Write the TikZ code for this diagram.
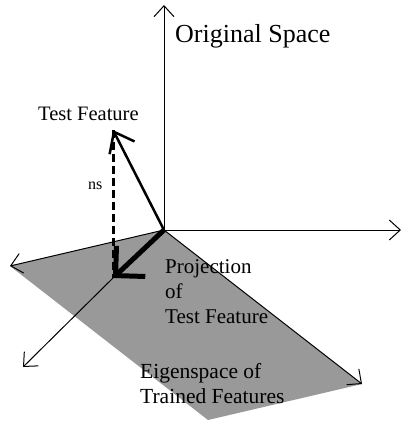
\documentclass[tikz,border=0pt]{standalone}
\usepackage{fontspec}
\setmainfont{Liberation Serif}
\usetikzlibrary{arrows.meta}
\begin{document}
\begin{tikzpicture}[x=1pt,y=-1pt,
  axis/.style={line width=1pt,-{Straight Barb[length=11pt,width=20pt]}},
  label/.style={anchor=base west,inner sep=0pt,align=left}]
  \useasboundingbox (0,0) rectangle (402,422);
  % points
  \coordinate (o) at (164,230);
  \coordinate (test) at (113,130);
  \coordinate (proj) at (113,278);
  % eigenspace plane
  \fill[black!40] (10,266) -- (o) -- (362,384) -- (208,420) -- cycle;
  % axes
  \draw[axis] (o) -- (164,5) coordinate (ytip);
  \draw[axis] (o) -- (401,230) coordinate (xtip);
  \draw[axis] (o) -- (10,266) coordinate (ltip);
  \draw[axis] (o) -- (362,384) coordinate (rtip);
  \draw[axis] (proj) -- (23,367) coordinate (dtip);
  % test feature and its projection
  \draw[line width=3pt,dash pattern=on 8pt off 4pt] (test) -- (proj);
  \draw[line width=2.5pt,-{Straight Barb[length=18pt,width=28pt]}] (o) -- (test);
  \draw[line width=5pt,-{Straight Barb[length=21pt,width=42pt]}] (o) -- (proj);
  % labels
  \node[label,font=\fontsize{26}{30}\selectfont] (orig) at (175,43) {Original Space};
  \node[label,font=\fontsize{20.5}{25}\selectfont] (testlbl) at (38,121) {Test Feature};
  \node[label,font=\fontsize{16}{18}\selectfont] (ns) at (88,189) {ns};
  \node[label,font=\fontsize{21}{25}\selectfont] (projlbl) at (165,323) {Projection\\of\\Test Feature};
  \node[label,font=\fontsize{21.5}{25}\selectfont] (eigen) at (140,403) {Eigenspace of\\Trained Features};
\end{tikzpicture}
\end{document}
